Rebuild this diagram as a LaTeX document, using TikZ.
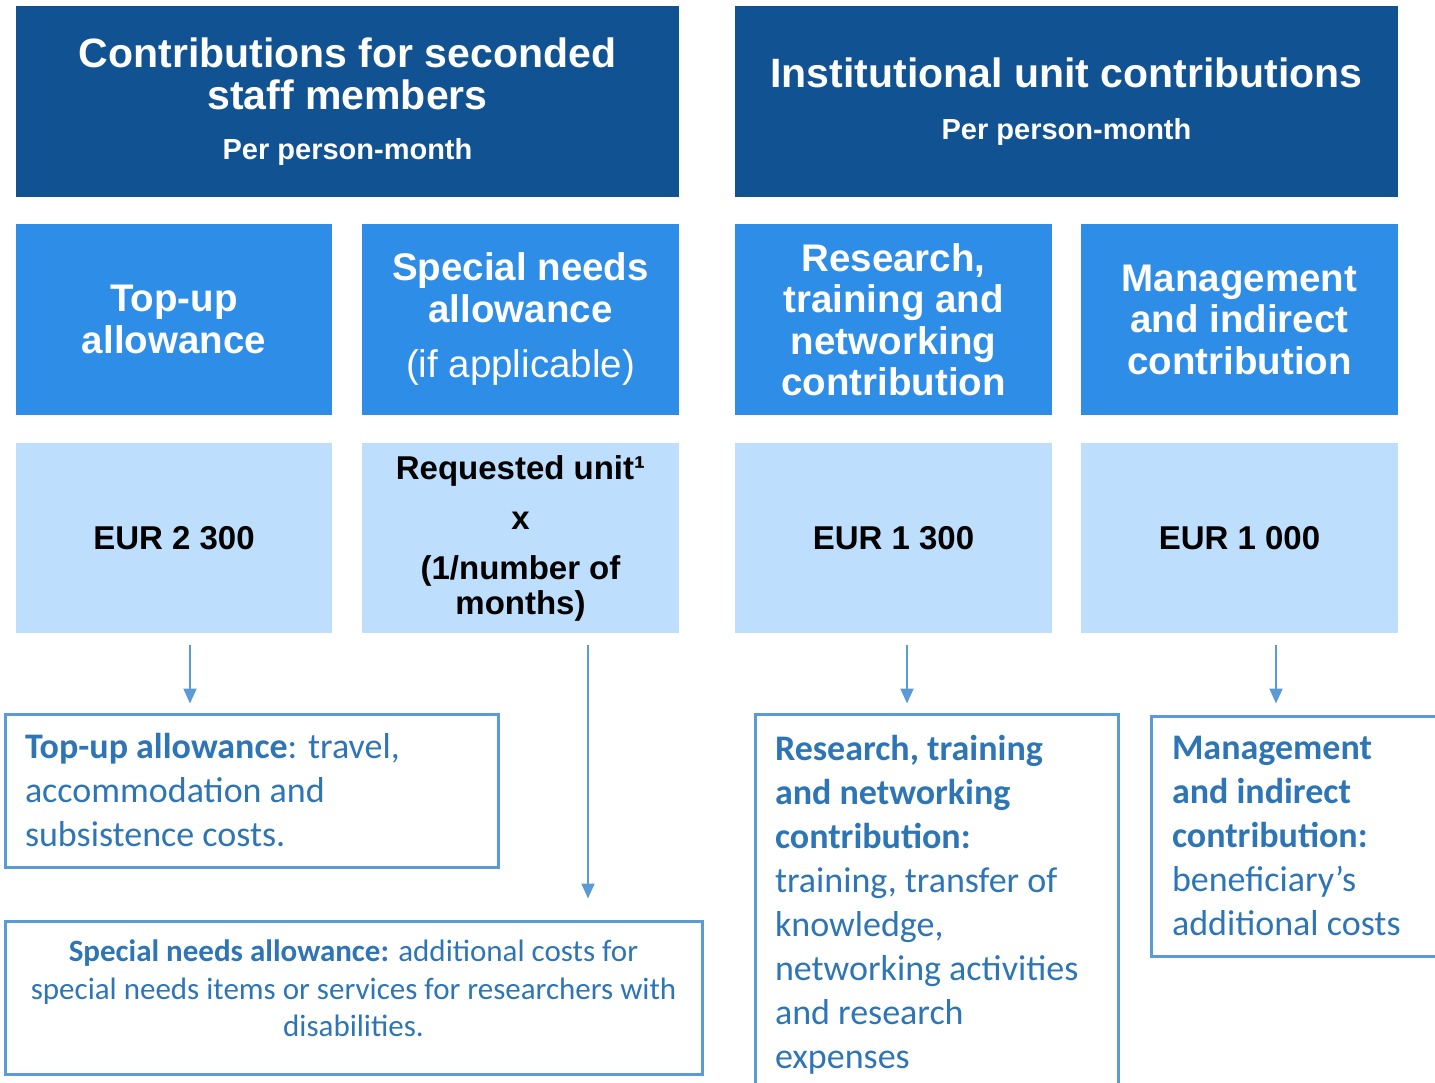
\documentclass[tikz,border=0pt]{standalone}
\usepackage{fontspec}
\setmainfont{Liberation Sans}
\newfontfamily\calfont{Carlito}
\usetikzlibrary{arrows.meta,calc}
\definecolor{darkblue}{RGB}{17,82,147}
\definecolor{midblue}{RGB}{46,141,230}
\definecolor{lightblue}{RGB}{189,222,253}
\definecolor{textblue}{RGB}{46,117,182}
\definecolor{lineblue}{RGB}{91,155,213}
\begin{document}
\begin{tikzpicture}[x=1pt,y=-1pt,
  darkbox/.style={fill=darkblue, text=white, inner sep=0pt, align=flush center, minimum width=663pt, minimum height=191pt, text width=650pt, font=\fontsize{41}{42}\selectfont\bfseries},
  midbox/.style={fill=midblue, text=white, minimum width=317pt, minimum height=191pt, inner sep=0pt, text width=310pt, align=flush center, font=\fontsize{38.5}{41.5}\selectfont\bfseries},
  lightbox/.style={fill=lightblue, minimum width=317pt, minimum height=190pt, inner sep=0pt, text width=310pt, align=flush center, font=\fontsize{33}{35}\selectfont\bfseries},
  notebox/.style={draw=lineblue, line width=3pt, text=textblue, inner ysep=0pt, font=\calfont\fontsize{36}{44}\selectfont},
  arr/.style={draw=lineblue, line width=2pt, -{Triangle[width=13pt,length=15pt]}}
]
\useasboundingbox (0,0) rectangle (1435,1083);
\clip (0,0) rectangle (1435,1083);

% header boxes
\node[darkbox] (t1) at (347.5,101.5) {Contributions for seconded\\ staff members\par\vspace{20pt}{\fontsize{29}{30}\selectfont Per person-month\par}};
\node[darkbox] (t2) at (1066.5,101.5) {Institutional unit contributions\par\vspace{22pt}{\fontsize{29}{30}\selectfont Per person-month\par}};

% category boxes
\node[midbox, minimum width=316pt] (m1) at (174,319.5) {Top-up\\ allowance};
\node[midbox] (m2) at (520.5,319.5) {Special needs\\ allowance\par\vspace{14pt}{\mdseries (if applicable)\par}};
\node[midbox] (m3) at (893.5,319.5) {Research,\\ training and\\ networking\\ contribution};
\node[midbox] (m4) at (1239.5,319.5) {Management\\ and indirect\\ contribution};

% amount boxes
\node[lightbox, minimum width=316pt] (l1) at (174,538) {EUR 2 300};
\node[lightbox] (l2) at (520.5,538) {Requested unit¹\\[15pt] x\\[15pt] (1/number of\\ months)};
\node[lightbox] (l3) at (893.5,538) {EUR 1 300};
\node[lightbox] (l4) at (1239.5,538) {EUR 1 000};

% description boxes
\node[notebox, minimum width=493pt, minimum height=153pt, inner xsep=20pt, text width=453pt, align=flush left] (b1) at (251.5,790.5)
  {\textbf{Top-up allowance}: travel,\\ accommodation and\\ subsistence costs.};
\node[notebox, minimum width=697pt, minimum height=153pt, inner xsep=10pt, text width=677pt, align=flush center, font=\calfont\fontsize{31}{37.5}\selectfont] (b2) at (353.5,997.5)
  {\textbf{Special needs allowance:} additional costs for\\ special needs items or services for researchers with\\ disabilities.\par\vspace{18pt}};
\node[notebox, minimum width=363pt, minimum height=381pt, inner xsep=20pt, text width=323pt, align=flush left] (b3) at (936.5,904.5)
  {\textbf{Research, training}\\ \textbf{and networking}\\ \textbf{contribution:}\\ training, transfer of\\ knowledge,\\ networking activities\\ and research\\ expenses};
\node[notebox, minimum width=294pt, minimum height=240pt, inner xsep=21pt, text width=252pt, align=flush left] (b4) at (1298,836)
  {\textbf{Management}\\ \textbf{and indirect}\\ \textbf{contribution:}\\ beneficiary’s\\ additional costs};

% arrows
\coordinate (x1) at (190,0);
\coordinate (x2) at (588,0);
\coordinate (x3) at (907,0);
\coordinate (x4) at (1276,0);
\draw[arr] ($(l1.south -| x1)+(0,12)$) -- ($(b1.north -| x1)+(0,-9)$);
\draw[arr] ($(l2.south -| x2)+(0,12)$) -- ($(b2.north -| x2)+(0,-21)$);
\draw[arr] ($(l3.south -| x3)+(0,12)$) -- ($(b3.north -| x3)+(0,-9)$);
\draw[arr] ($(l4.south -| x4)+(0,12)$) -- ($(b4.north -| x4)+(0,-11)$);
\end{tikzpicture}
\end{document}
